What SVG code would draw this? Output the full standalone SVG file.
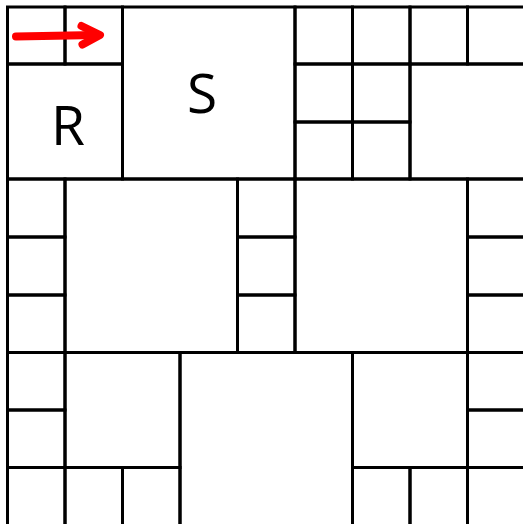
<svg xmlns="http://www.w3.org/2000/svg" width="523" height="524" viewBox="0 0 523 524">
<style>
rect{fill:none;stroke:#000;stroke-width:3}
text{font-family:"Open Sans","Liberation Sans",sans-serif;font-size:55px;fill:#000;text-anchor:middle}
.arrow{fill:none;stroke:#ff0000;stroke-linecap:round;stroke-linejoin:round}
</style>
<rect x="0" y="0" width="523" height="524" style="fill:#fff;stroke:none"/>
<g id="sq-a"><rect x="7.5" y="7" width="57.5" height="57"/></g>
<g id="sq-b"><rect x="65" y="7" width="57.5" height="57"/></g>
<g id="sq-R"><rect x="7.5" y="64" width="115" height="115"/><text x="68" y="145">R</text></g>
<g id="sq-S"><rect x="122.5" y="7" width="172.5" height="172"/><text x="202" y="113">S</text></g>
<g id="sq-t5"><rect x="295" y="7" width="57.5" height="57"/></g>
<g id="sq-t6"><rect x="352.5" y="7" width="57.5" height="57"/></g>
<g id="sq-t7"><rect x="410" y="7" width="57.5" height="57"/></g>
<g id="sq-t8"><rect x="467.5" y="7" width="61" height="57"/></g>
<g id="sq-m1"><rect x="295" y="64" width="57.5" height="58"/></g>
<g id="sq-m2"><rect x="352.5" y="64" width="57.5" height="58"/></g>
<g id="sq-m3"><rect x="295" y="122" width="57.5" height="57"/></g>
<g id="sq-m4"><rect x="352.5" y="122" width="57.5" height="57"/></g>
<g id="sq-TR"><rect x="410" y="64" width="118.5" height="115"/></g>
<g id="sq-l1"><rect x="7.5" y="179" width="57.5" height="58"/></g>
<g id="sq-l2"><rect x="7.5" y="237" width="57.5" height="58"/></g>
<g id="sq-l3"><rect x="7.5" y="295" width="57.5" height="57.5"/></g>
<g id="sq-BL"><rect x="65" y="179" width="172.5" height="173.5"/></g>
<g id="sq-c1"><rect x="237.5" y="179" width="57.5" height="58"/></g>
<g id="sq-c2"><rect x="237.5" y="237" width="57.5" height="58"/></g>
<g id="sq-c3"><rect x="237.5" y="295" width="57.5" height="57.5"/></g>
<g id="sq-BM"><rect x="295" y="179" width="172.5" height="173.5"/></g>
<g id="sq-r1"><rect x="467.5" y="179" width="61" height="58"/></g>
<g id="sq-r2"><rect x="467.5" y="237" width="61" height="58"/></g>
<g id="sq-r3"><rect x="467.5" y="295" width="61" height="57.5"/></g>
<g id="sq-bl1"><rect x="7.5" y="352.5" width="57.5" height="57.5"/></g>
<g id="sq-bl2"><rect x="7.5" y="410" width="57.5" height="57.5"/></g>
<g id="sq-bl3"><rect x="7.5" y="467.5" width="57.5" height="61"/></g>
<g id="sq-Q1"><rect x="65" y="352.5" width="115" height="115"/></g>
<g id="sq-q1"><rect x="65" y="467.5" width="57.5" height="61"/></g>
<g id="sq-q2"><rect x="122.5" y="467.5" width="57.5" height="61"/></g>
<g id="sq-BB"><rect x="180" y="352.5" width="172.5" height="176"/></g>
<g id="sq-Q2"><rect x="352.5" y="352.5" width="115" height="115"/></g>
<g id="sq-q3"><rect x="352.5" y="467.5" width="57.5" height="61"/></g>
<g id="sq-q4"><rect x="410" y="467.5" width="57.5" height="61"/></g>
<g id="sq-br1"><rect x="467.5" y="352.5" width="61" height="57.5"/></g>
<g id="sq-br2"><rect x="467.5" y="410" width="61" height="57.5"/></g>
<g id="sq-br3"><rect x="467.5" y="467.5" width="61" height="61"/></g>
<g id="connectors">
<path class="arrow" d="M16 36.5 L96 35" stroke-width="8"/>
<polyline class="arrow" points="81.5,26 100,35 82.5,44.5" stroke-width="8"/>
</g>
</svg>
